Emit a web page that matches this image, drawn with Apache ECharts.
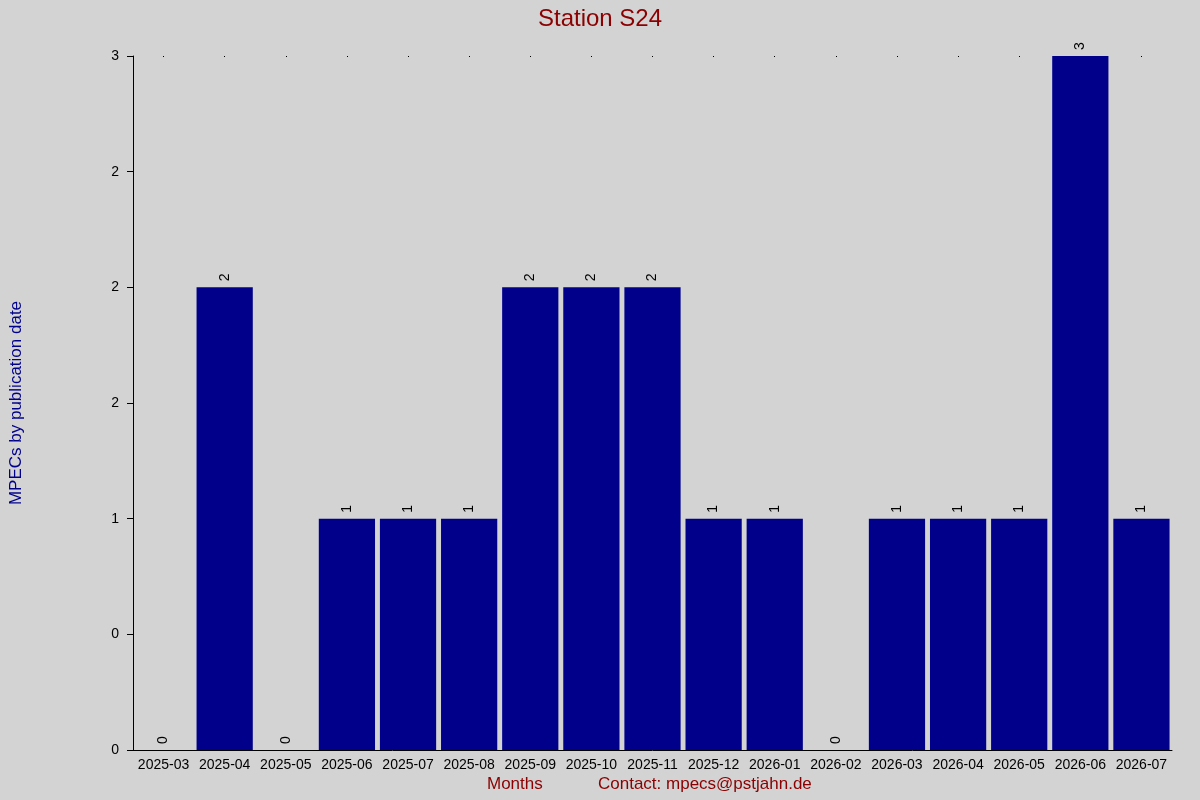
<!DOCTYPE html>
<html><head><meta charset="utf-8">
<script src="https://cdn.jsdelivr.net/npm/echarts@6/dist/echarts.min.js"></script>
<style>html,body{margin:0;background:#d3d3d3}#c{width:1200px;height:800px}</style>
</head><body><div id="c"></div>
<script>
const categories=["2025-03","2025-04","2025-05","2025-06","2025-07","2025-08","2025-09","2025-10","2025-11","2025-12","2026-01","2026-02","2026-03","2026-04","2026-05","2026-06","2026-07"];
const values=[0,2,0,1,1,1,2,2,2,1,1,0,1,1,1,3,1];
const yTickLabels={"0":"0","0.5":"0","1":"1","1.5":"2","2":"2","2.5":"2","3":"3"};
const chart=echarts.init(document.getElementById('c'));
chart.setOption({
 backgroundColor:'#d3d3d3',
 textStyle:{fontFamily:'Liberation Sans, Arial'},
 title:{text:'Station S24',left:'center',top:2,textStyle:{color:'#8b0000',fontSize:24,fontWeight:'normal',fontFamily:'Liberation Sans, Arial'}},
 grid:{left:125,right:28,top:56,bottom:50},
 graphic:[
  {type:'text',left:487,top:776,style:{text:'Months',fill:'#8b0000',fontSize:17,fontFamily:'Liberation Sans, Arial'}},
  {type:'text',left:598,top:776,style:{text:'Contact: mpecs@pstjahn.de',fill:'#8b0000',fontSize:17,fontFamily:'Liberation Sans, Arial'}}
 ],
 xAxis:[{type:'category',data:categories,axisLine:{lineStyle:{color:'#000'}},axisTick:{show:false},
   axisLabel:{color:'#000',fontSize:14,margin:8,interval:0}},
  {type:'category',data:categories,position:'top',axisLine:{show:false},axisTick:{show:true,alignWithLabel:true,inside:true,length:1,lineStyle:{color:'#000'}},axisLabel:{show:false}}],
 yAxis:{type:'value',min:0,max:3,interval:0.5,name:'MPECs by publication date',nameLocation:'middle',nameGap:108,
   nameTextStyle:{color:'#00008b',fontSize:17},
   axisLine:{show:true,lineStyle:{color:'#000'}},axisTick:{show:true,length:6,lineStyle:{color:'#000'}},splitLine:{show:false},
   axisLabel:{color:'#000',fontSize:14,margin:14,formatter:v=>yTickLabels[String(v)]}},
 series:[{type:'bar',data:values,barCategoryGap:'8%',itemStyle:{color:'#00008b'},
   label:{show:true,position:'top',rotate:90,align:'left',verticalAlign:'middle',distance:6,color:'#000',fontSize:14}}]
});
</script></body></html>
